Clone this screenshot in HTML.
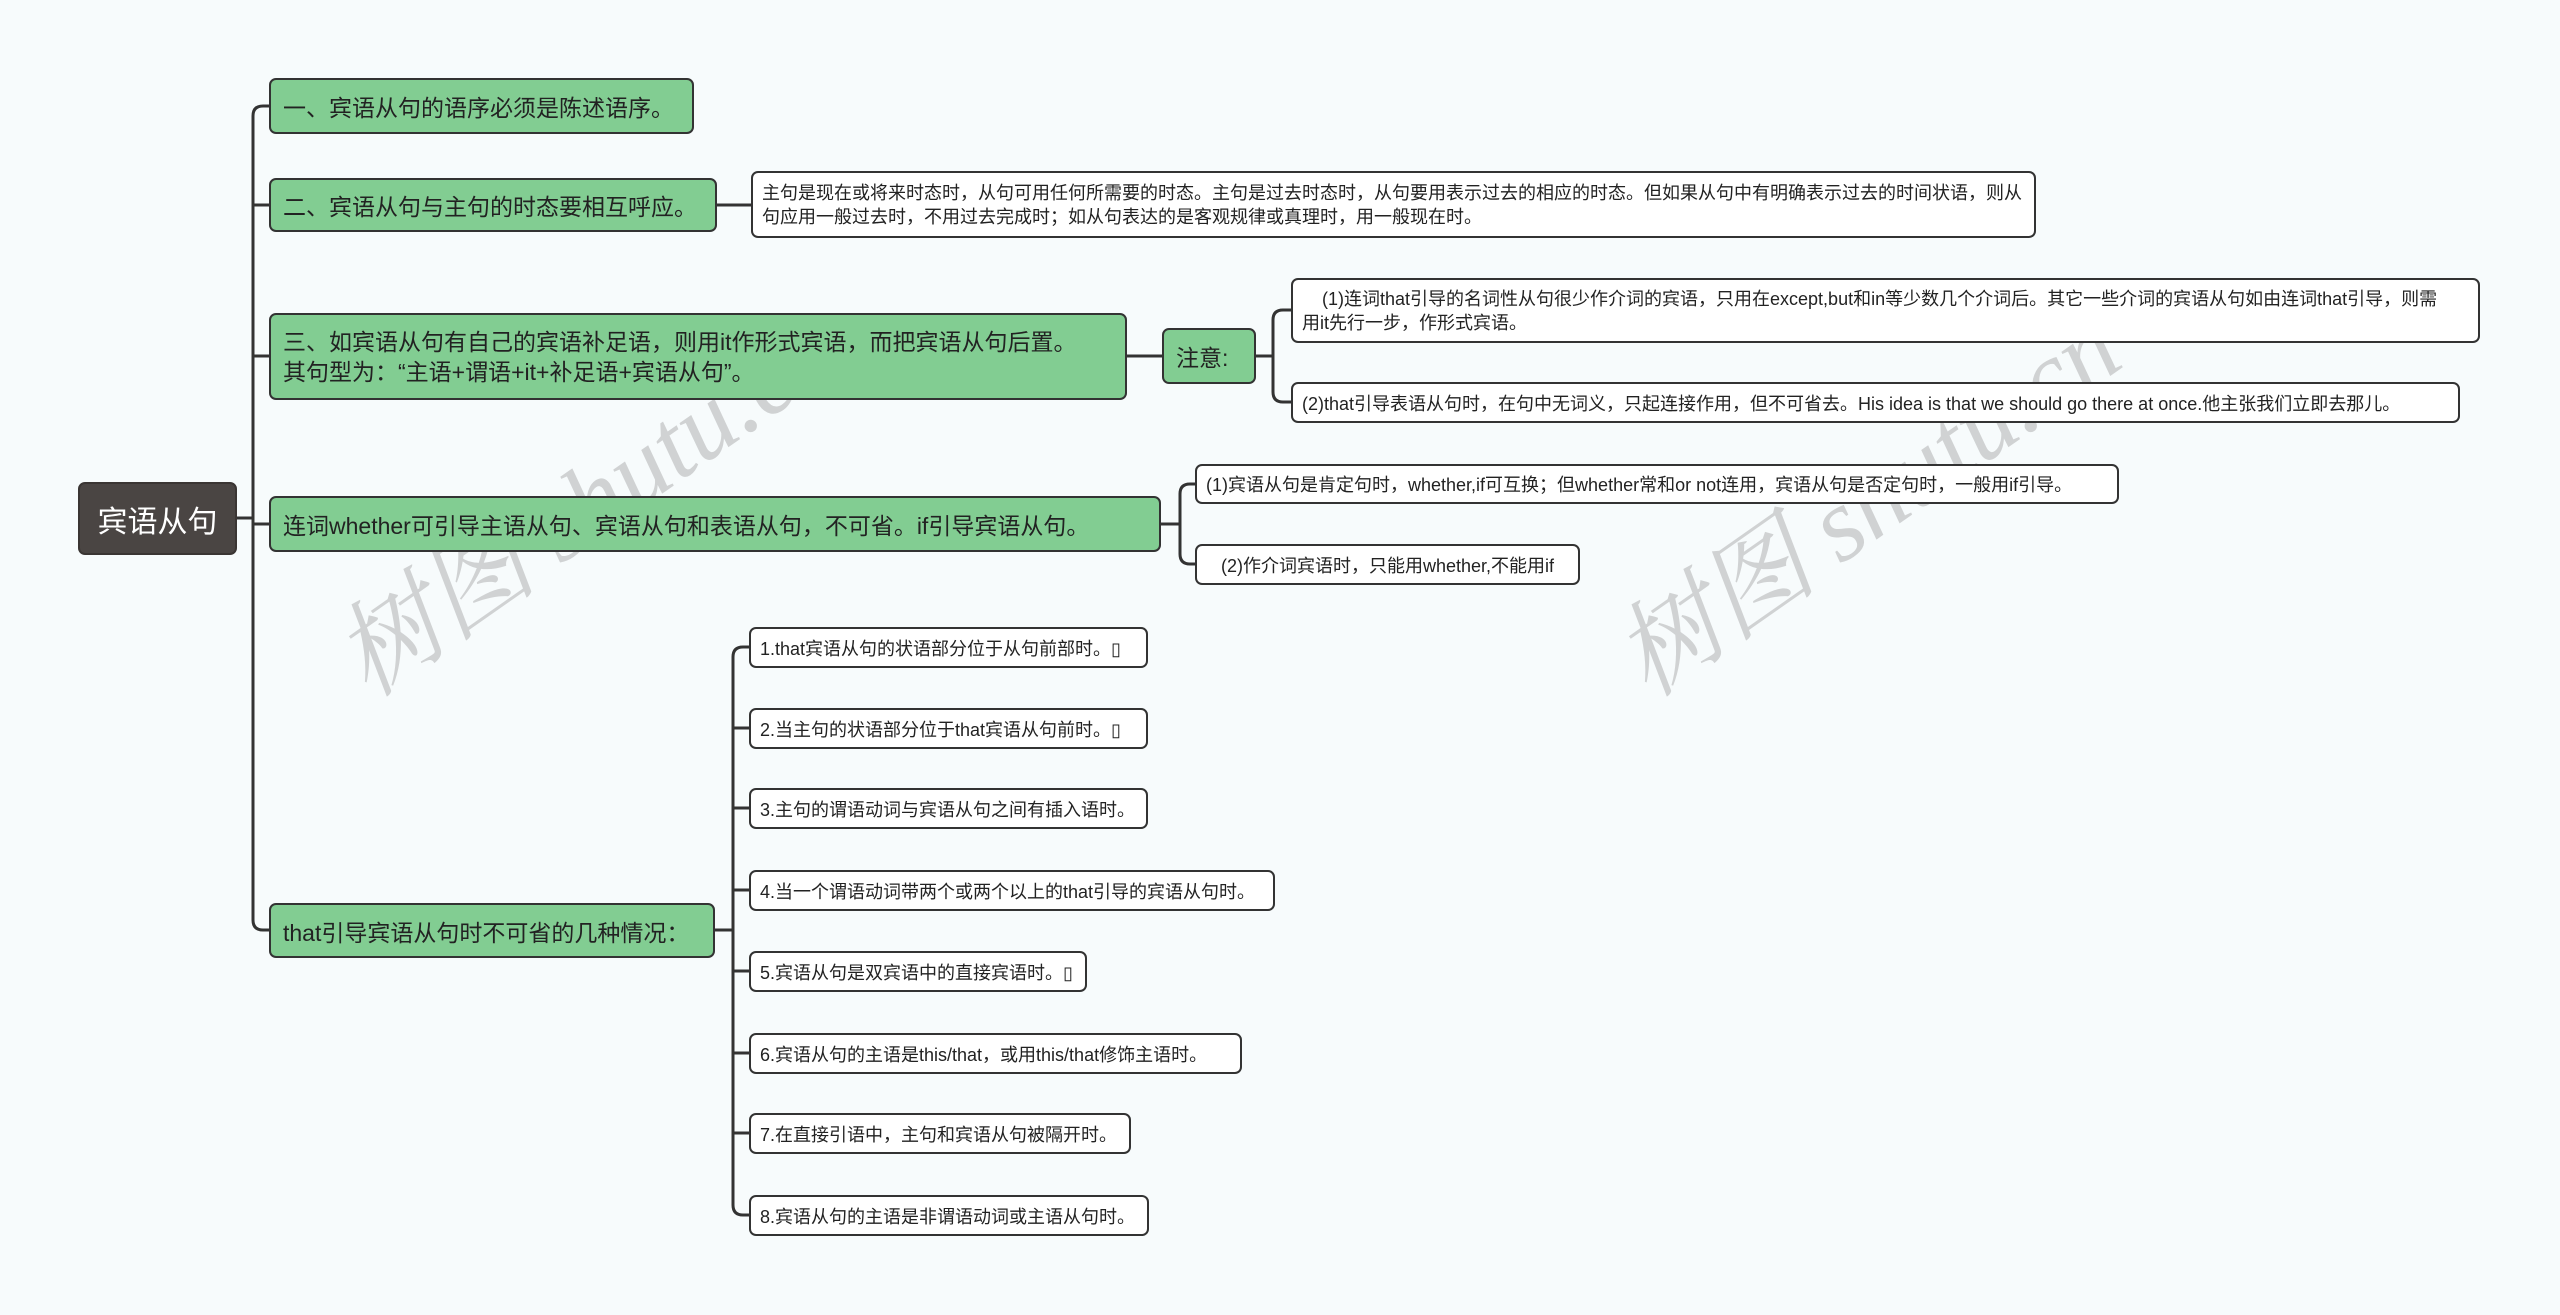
<!DOCTYPE html>
<html><head><meta charset="utf-8">
<style>
body{margin:0;width:2560px;height:1315px;background:#f7fbfc;position:relative;overflow:hidden;font-family:"Liberation Sans","Noto Sans CJK SC",sans-serif;}
.n{position:absolute;box-sizing:border-box;display:flex;align-items:center;border:2px solid #333;border-radius:7px;color:#222;white-space:nowrap;}
.g{background:#82cd92;font-size:23px;padding-left:12px;}
.w{background:#fff;font-size:18px;padding-left:9px;}
.wm{position:absolute;font-size:104px;color:rgba(150,150,150,0.4);transform:rotate(-35deg);font-family:"Liberation Serif","Noto Serif CJK SC",serif;font-style:italic;white-space:nowrap;}
</style></head><body>
<svg width="2560" height="1315" style="position:absolute;left:0;top:0" fill="none" stroke="#333" stroke-width="3">
<path d="M237 518 H253"/>
<path d="M269 106 H263 Q253 106 253 116 V920 Q253 930 263 930 H269"/>
<path d="M253 205 Q253 205 263 205 H269 M253 356 H269 M253 524 H269"/>
<path d="M717 205 H751"/>
<path d="M1127 356 H1162"/>
<path d="M1256 356 H1273"/>
<path d="M1291 310 H1283 Q1273 310 1273 320 V392 Q1273 402 1283 402 H1291"/>
<path d="M1161 524 H1180"/>
<path d="M1195 484 H1190 Q1180 484 1180 494 V554 Q1180 564 1190 564 H1195"/>
<path d="M715 930 H733"/>
<path d="M749 647 H743 Q733 647 733 657 V1205 Q733 1215 743 1215 H749"/>
<path d="M733 728 H749 M733 808 H749 M733 890 H749 M733 971 H749 M733 1053 H749 M733 1133 H749"/>
</svg>
<div class="wm" style="left:290px;top:420px;">树图 shutu.cn</div>
<div class="wm" style="left:1570px;top:420px;">树图 shutu.cn</div>

<div class="n" style="left:78px;top:482px;width:159px;height:73px;background:#4a4543;color:#fff;font-size:30px;justify-content:center;border-color:#3a3533;">宾语从句</div>

<div class="g n" style="left:269px;top:78px;width:425px;height:56px;">一、宾语从句的语序必须是陈述语序。</div>
<div class="g n" style="left:269px;top:178px;width:448px;height:54px;">二、宾语从句与主句的时态要相互呼应。</div>
<div class="w n" style="left:751px;top:171px;width:1285px;height:67px;white-space:normal;line-height:24px;">主句是现在或将来时态时，从句可用任何所需要的时态。主句是过去时态时，从句要用表示过去的相应的时态。但如果从句中有明确表示过去的时间状语，则从句应用一般过去时，不用过去完成时；如从句表达的是客观规律或真理时，用一般现在时。</div>
<div class="g n" style="left:269px;top:313px;width:858px;height:87px;white-space:normal;line-height:30px;">三、如宾语从句有自己的宾语补足语，则用it作形式宾语，而把宾语从句后置。<br>其句型为：“主语+谓语+it+补足语+宾语从句”。</div>
<div class="g n" style="left:1162px;top:328px;width:94px;height:56px;">注意:</div>
<div class="w n" style="left:1291px;top:278px;width:1189px;height:65px;white-space:normal;line-height:24px;padding-right:30px;">&nbsp;&nbsp;&nbsp;&nbsp;(1)连词that引导的名词性从句很少作介词的宾语，只用在except,but和in等少数几个介词后。其它一些介词的宾语从句如由连词that引导，则需用it先行一步，作形式宾语。</div>
<div class="w n" style="left:1291px;top:382px;width:1169px;height:41px;">(2)that引导表语从句时，在句中无词义，只起连接作用，但不可省去。His idea is that we should go there at once.他主张我们立即去那儿。</div>
<div class="g n" style="left:269px;top:496px;width:892px;height:56px;">连词whether可引导主语从句、宾语从句和表语从句，不可省。if引导宾语从句。</div>
<div class="w n" style="left:1195px;top:464px;width:924px;height:40px;">(1)宾语从句是肯定句时，whether,if可互换；但whether常和or not连用，宾语从句是否定句时，一般用if引导。</div>
<div class="w n" style="left:1195px;top:544px;width:385px;height:41px;">&nbsp;&nbsp;&nbsp;(2)作介词宾语时，只能用whether,不能用if</div>
<div class="g n" style="left:269px;top:903px;width:446px;height:55px;">that引导宾语从句时不可省的几种情况：</div>

<div class="w n" style="left:749px;top:627px;width:399px;height:41px;">1.that宾语从句的状语部分位于从句前部时。▯</div>
<div class="w n" style="left:749px;top:708px;width:399px;height:41px;">2.当主句的状语部分位于that宾语从句前时。▯</div>
<div class="w n" style="left:749px;top:788px;width:399px;height:41px;">3.主句的谓语动词与宾语从句之间有插入语时。</div>
<div class="w n" style="left:749px;top:870px;width:526px;height:41px;">4.当一个谓语动词带两个或两个以上的that引导的宾语从句时。</div>
<div class="w n" style="left:749px;top:951px;width:338px;height:41px;">5.宾语从句是双宾语中的直接宾语时。▯</div>
<div class="w n" style="left:749px;top:1033px;width:493px;height:41px;">6.宾语从句的主语是this/that，或用this/that修饰主语时。</div>
<div class="w n" style="left:749px;top:1113px;width:382px;height:41px;">7.在直接引语中，主句和宾语从句被隔开时。</div>
<div class="w n" style="left:749px;top:1195px;width:400px;height:41px;">8.宾语从句的主语是非谓语动词或主语从句时。</div>
</body></html>
